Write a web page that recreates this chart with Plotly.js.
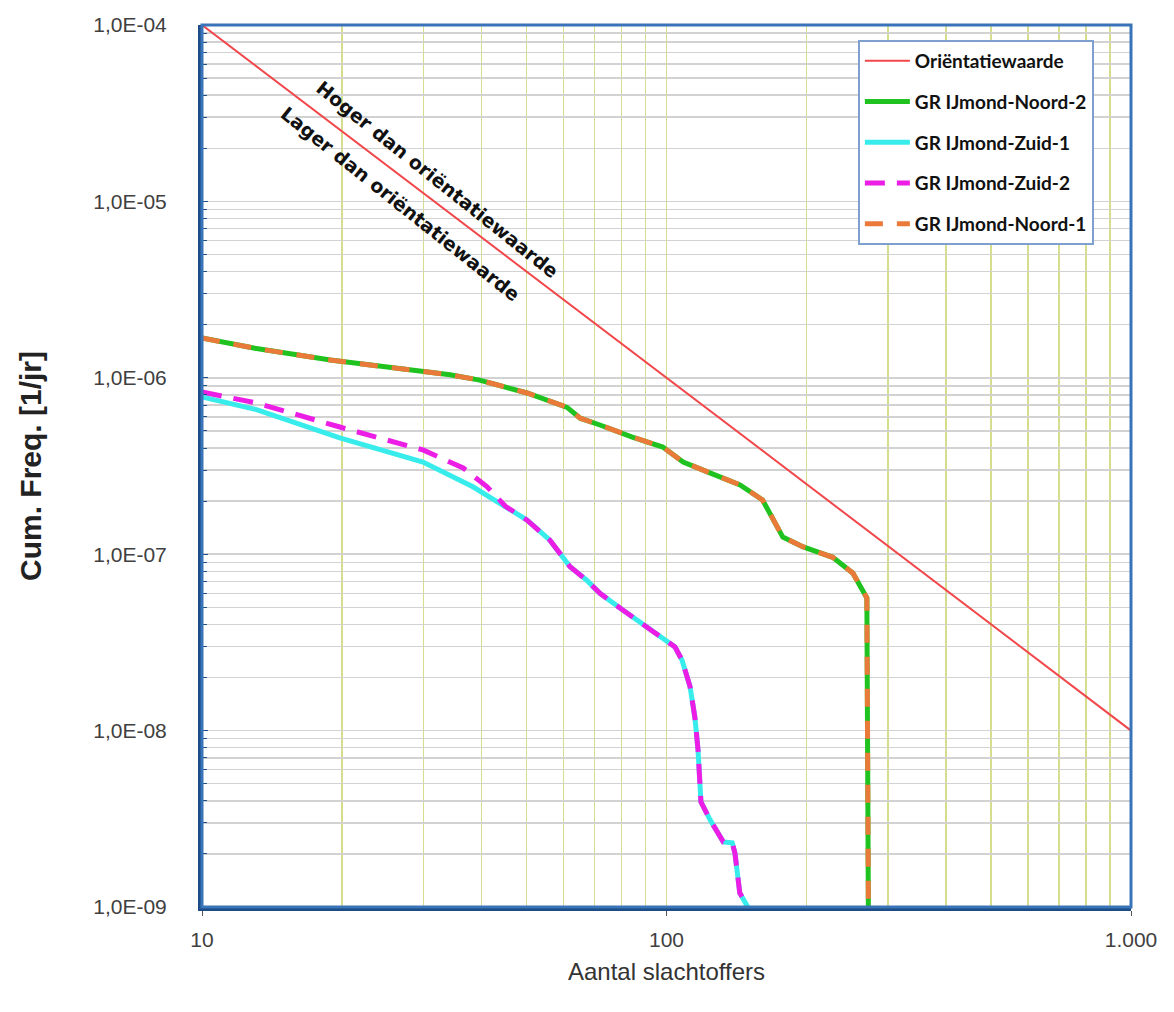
<!DOCTYPE html>
<html>
<head>
<meta charset="utf-8">
<script src="https://cdn.plot.ly/plotly-3.0.1.min.js"></script>
<style>html,body{margin:0;padding:0;background:#fff}#chart{width:1174px;height:1012px}</style>
</head>
<body>
<div id="chart"></div>
<script>
// ---- data ----
const orientN = [10, 1000];
const orientF = [1e-4, 1e-8];

const noordN = [10, 13, 18.9, 29.4, 34.2, 39.6, 50.1, 61.1, 65.2, 71.9, 84.7, 98.2, 108.6, 124, 144, 161, 178, 197, 228, 252, 270, 272];
const noordF = [1.68e-6, 1.47e-6, 1.26e-6, 1.08e-6, 1.04e-6, 9.7e-7, 8.2e-7, 6.8e-7, 5.9e-7, 5.4e-7, 4.6e-7, 4.05e-7, 3.33e-7, 2.89e-7, 2.47e-7, 2.03e-7, 1.25e-7, 1.10e-7, 9.6e-8, 7.8e-8, 5.65e-8, 1e-9];

const zuid1HeadN = [10, 13.1, 19.8, 29.9, 38.3, 41.7];
const zuid1HeadF = [7.8e-7, 6.6e-7, 4.56e-7, 3.33e-7, 2.41e-7, 2.11e-7];
const zuid2HeadN = [10, 13.1, 19.8, 29.9, 36.5, 41.1];
const zuid2HeadF = [8.3e-7, 7.2e-7, 5.26e-7, 3.9e-7, 3.08e-7, 2.41e-7];
const zuidTailN = [45.0, 50.1, 56.1, 62, 67.4, 71.9, 79.4, 86.4, 93.5, 100.7, 104.3, 108, 112.4, 115.1, 116.9, 118, 118.6, 124.2, 132.5, 138.5, 140.4, 143.8, 149.6];
const zuidTailF = [1.87e-7, 1.56e-7, 1.2e-7, 8.5e-8, 7.1e-8, 6.0e-8, 4.95e-8, 4.24e-8, 3.62e-8, 3.14e-8, 2.98e-8, 2.51e-8, 1.77e-8, 1.19e-8, 7.8e-9, 5.05e-9, 3.94e-9, 3.11e-9, 2.34e-9, 2.31e-9, 2.02e-9, 1.2e-9, 1e-9];

const xTickVals = [10, 100, 1000];
const xTickText = ['10', '100', '1.000'];
const yTickVals = [1e-9, 1e-8, 1e-7, 1e-6, 1e-5, 1e-4];
const yTickText = ['1,0E-09', '1,0E-08', '1,0E-07', '1,0E-06', '1,0E-05', '1,0E-04'];

const seriesNames = ['Oriëntatiewaarde', 'GR IJmond-Noord-2', 'GR IJmond-Zuid-1', 'GR IJmond-Zuid-2', 'GR IJmond-Noord-1'];
const labelHoger = 'Hoger dan oriëntatiewaarde';
const labelLager = 'Lager dan oriëntatiewaarde';

// ---- traces ----
const traces = [
  {x: orientN, y: orientF, name: seriesNames[0], mode: 'lines', line: {color: '#f2474a', width: 2}, legendgroup: 'a'},
  {x: noordN, y: noordF, name: seriesNames[1], mode: 'lines', line: {color: '#1fc21f', width: 5}, legendgroup: 'b'},
  {x: zuid1HeadN.concat(zuidTailN), y: zuid1HeadF.concat(zuidTailF), name: seriesNames[2], mode: 'lines', line: {color: '#38ecec', width: 5}, legendgroup: 'c'},
  {x: zuid2HeadN.concat(zuidTailN), y: zuid2HeadF.concat(zuidTailF), name: seriesNames[3], mode: 'lines', line: {color: '#ec1ee6', width: 5, dash: '20px,12px'}, legendgroup: 'd'},
  {x: noordN, y: noordF, name: seriesNames[4], mode: 'lines', line: {color: '#ea7a3a', width: 5, dash: '18px,14px'}, legendgroup: 'e'}
];

const tickFont = {family: '"Liberation Sans", Arial, sans-serif', size: 21, color: '#404040'};

const layout = {
  width: 1174, height: 1012,
  paper_bgcolor: '#ffffff', plot_bgcolor: '#ffffff',
  margin: {l: 202, r: 43, t: 25, b: 105},
  showlegend: true,
  legend: {
    x: 0.706, y: 0.983, xanchor: 'left', yanchor: 'top',
    bgcolor: '#ffffff', bordercolor: '#7f9fce', borderwidth: 2,
    font: {family: 'Lato, "Open Sans", sans-serif', size: 19, color: '#111', weight: 'bold'},
    traceorder: 'grouped', tracegroupgap: 13, itemwidth: 45
  },
  xaxis: {
    type: 'log', range: [1, 3],
    tickmode: 'array', tickvals: xTickVals, ticktext: xTickText,
    tickfont: tickFont,
    ticks: 'outside', ticklen: 5, tickcolor: '#555',
    ticklabelstandoff: 6,
    showgrid: true, gridcolor: '#d6dd8e', gridwidth: 1.5,
    minor: {dtick: 'D1', showgrid: true, gridcolor: '#d6dd8e', gridwidth: 1.5, ticks: ''},
    showline: true, linecolor: '#1d4d86', linewidth: 4, mirror: false,
    zeroline: false,
    title: {text: 'Aantal slachtoffers', font: {family: '"Liberation Sans", Arial, sans-serif', size: 24, color: '#333'}, standoff: 14}
  },
  yaxis: {
    type: 'log', range: [-9, -4],
    tickmode: 'array', tickvals: yTickVals, ticktext: yTickText,
    tickfont: tickFont,
    ticks: 'inside', ticklen: 6, tickcolor: '#1d4d86',
    showgrid: true, gridcolor: '#d2d2d2', gridwidth: 1.5,
    minor: {dtick: 'D1', showgrid: true, gridcolor: '#d2d2d2', gridwidth: 1.5, ticks: 'inside', ticklen: 5, tickcolor: '#1d4d86'},
    showline: true, linecolor: '#1d4d86', linewidth: 4, mirror: false,
    zeroline: false,
    ticklabelstandoff: 27,
    title: {text: '<b>Cum. Freq. [1/jr]</b>', font: {family: '"Liberation Sans", Arial, sans-serif', size: 30, color: '#222'}, standoff: 44}
  },
  shapes: [
    {type: 'rect', xref: 'paper', yref: 'paper', x0: 0, x1: 1, y0: 0, y1: 1, line: {color: '#3a74b8', width: 3}, fillcolor: 'rgba(0,0,0,0)', layer: 'above'}
  ],
  annotations: [
    {xref: 'paper', yref: 'paper', x: 0.253, y: 0.825, xanchor: 'center', yanchor: 'middle', text: '<b>' + labelHoger + '</b>', textangle: 38.5, showarrow: false,
     font: {family: '"DejaVu Sans", sans-serif', size: 19, color: '#111'}},
    {xref: 'paper', yref: 'paper', x: 0.214, y: 0.797, xanchor: 'center', yanchor: 'middle', text: '<b>' + labelLager + '</b>', textangle: 38.5, showarrow: false,
     font: {family: '"DejaVu Sans", sans-serif', size: 19, color: '#111'}}
  ]
};

Plotly.newPlot('chart', traces, layout, {displayModeBar: false, staticPlot: true});
</script>
</body>
</html>
